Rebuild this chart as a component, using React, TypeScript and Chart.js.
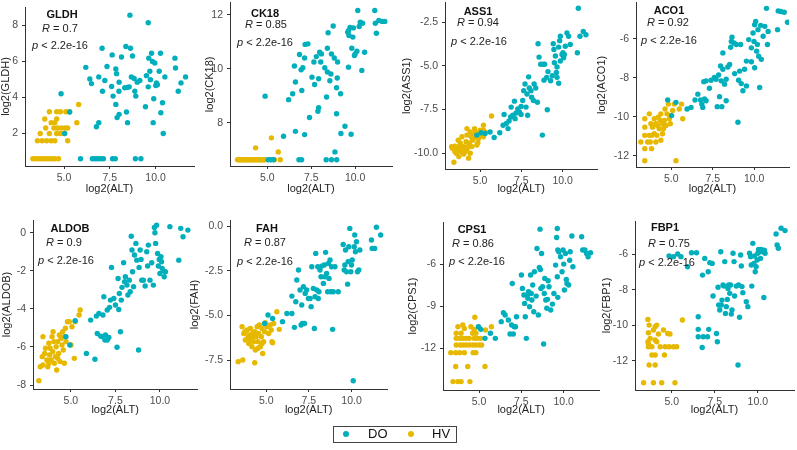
import React, { useEffect, useRef } from "react";
import { Chart, registerables } from "chart.js";
Chart.register(...registerables);

type Pt = [number, number];

const DO_COLOR = "#00AFBB";
const HV_COLOR = "#E7B800";
const AXIS_COLOR = "#333333";
const TICK_TEXT = "#4D4D4D";
const FONT = '"Liberation Sans", Arial, Helvetica, sans-serif';

const GROUPS = ["DO", "HV"];
const X_TITLE = "log2(ALT)";
const X_MIN = 2.87;
const X_MAX = 12.1;
const X_TICKS = [5, 7.5, 10];
const X_TICK_LABELS = ["5.0", "7.5", "10.0"];

const GENES = ["GLDH", "CK18", "ASS1", "ACO1", "ALDOB", "FAH", "CPS1", "FBP1"];
const R_VALUES = ["0.7", "0.85", "0.94", "0.92", "0.9", "0.87", "0.86", "0.75"];
const P_LABEL = "< 2.2e-16";

const Y_TICKS: number[][] = [
  [2, 4, 6, 8],
  [8, 10, 12],
  [-10, -7.5, -5, -2.5],
  [-12, -10, -8, -6],
  [-8, -6, -4, -2, 0],
  [-7.5, -5, -2.5, 0],
  [-12, -9, -6],
  [-12, -10, -8, -6],
];
const Y_TICK_LABELS: string[][] = [
  ["2", "4", "6", "8"],
  ["8", "10", "12"],
  ["-10.0", "-7.5", "-5.0", "-2.5"],
  ["-12", "-10", "-8", "-6"],
  ["-8", "-6", "-4", "-2", "0"],
  ["-7.5", "-5.0", "-2.5", "0.0"],
  ["-12", "-9", "-6"],
  ["-12", "-10", "-8", "-6"],
];
const Y_RANGES: Pt[] = [
  [0.2, 9.0],
  [6.41, 12.44],
  [-10.9, -1.39],
  [-12.57, -4.16],
  [-8.21, 0.67],
  [-9.12, 0.34],
  [-14.97, -3.0],
  [-13.65, -4.12],
];

// ---------- data ----------
const GLDH_HV: Pt[] = [
  [3.3,0.6],[3.45,0.6],[3.6,0.6],[3.75,0.6],[3.9,0.6],[4.05,0.6],[4.2,0.6],[4.35,0.6],[4.5,0.6],[4.7,0.6],
  [3.55,1.6],[3.8,1.6],[4.05,1.6],[4.3,1.6],[4.5,1.6],[5.2,1.6],
  [3.7,2.0],[4.2,2.0],[4.6,2.0],[4.8,2.0],[5.0,2.0],
  [4.0,2.3],[4.45,2.3],[4.65,2.3],[4.85,2.3],[5.05,2.3],[5.2,2.3],
  [4.3,2.6],[4.5,2.6],[5.7,2.6],[3.95,2.8],[4.6,2.8],
  [4.2,3.2],[4.6,3.2],[4.8,3.2],[5.1,3.2],[5.3,3.2],[5.8,3.6],
];
const GLDH_DO: Pt[] = [
  [4.84,4.2],[5.04,2.0],[5.31,3.19],
  [5.9,0.6],[6.55,0.6],[6.7,0.6],[6.85,0.6],[7.0,0.6],[7.15,0.6],[7.65,0.6],[7.8,0.6],[8.9,0.6],[9.2,0.6],
  [6.19,5.66],[6.41,5.02],[6.5,4.76],[6.9,5.13],[7.08,6.72],[7.23,4.93],[7.35,5.71],[7.1,4.34],[6.9,2.6],[6.77,2.37],
  [7.63,6.35],[7.68,4.07],[7.83,5.57],[7.87,5.31],[7.83,3.61],[7.9,2.88],[8.01,3.06],[8.0,4.34],[8.14,6.23],[8.01,4.84],
  [8.32,4.53],[8.41,3.19],[8.38,6.81],[8.47,2.6],[8.6,8.55],[8.56,4.58],[8.63,6.72],[8.68,5.13],[8.74,6.29],[8.83,5.04],
  [8.87,4.34],[8.92,4.07],[9.0,4.84],[9.14,4.93],[9.45,3.48],[9.6,8.13],[9.63,6.17],[9.69,5.44],[9.72,4.98],[9.78,6.44],
  [9.83,5.99],[9.87,2.6],[9.9,3.92],[9.96,5.9],[10.01,4.65],[10.05,4.8],[10.1,4.7],[10.2,5.44],[10.27,6.44],[10.29,3.15],
  [10.38,3.7],[10.42,2.0],[10.51,5.13],[11.06,6.17],[11.09,5.62],[11.24,4.34],[11.39,4.8],[11.64,5.13],[9.6,4.58],[9.5,5.2],
  [8.45,4.55],[7.6,4.6],
];

const CK18_HV: Pt[] = [
  [3.3,6.64],[3.38,6.64],[3.45,6.64],[3.52,6.64],[3.6,6.64],[3.67,6.64],[3.74,6.64],[3.81,6.64],[3.88,6.64],[3.95,6.64],
  [4.02,6.64],[4.09,6.64],[4.16,6.64],[4.23,6.64],[4.3,6.64],[4.37,6.64],[4.44,6.64],[4.51,6.64],[4.58,6.64],[4.65,6.64],
  [4.72,6.64],[4.8,6.64],[4.88,6.64],[4.33,7.08],[5.23,7.45],[5.62,6.93],[5.73,6.64],[5.4,6.64],
];
const CK18_DO: Pt[] = [
  [5.05,6.64],[5.2,6.64],[5.35,6.64],[6.8,6.64],[6.95,6.64],[8.35,6.64],[8.65,6.64],[8.95,6.64],[8.85,6.93],
  [4.87,8.99],[5.92,7.51],[6.21,8.86],[6.44,9.08],[6.54,10.1],[6.6,9.51],[6.6,7.69],[6.83,10.53],[6.92,9.96],[6.96,9.2],
  [7.02,10.04],[7.12,7.57],[7.15,10.9],[7.31,10.92],[7.12,10.4],[7.4,8.2],[7.54,9.69],[7.65,10.25],[7.69,9.42],[7.79,10.45],
  [7.88,8.43],[7.92,8.56],[7.92,9.63],[7.98,10.61],[8.08,10.55],[8.04,10.25],[8.27,10.04],[8.37,8.96],[8.42,10.76],[8.42,9.88],
  [8.46,11.33],[8.56,9.56],[8.62,9.81],[8.65,10.55],[8.75,11.58],[8.81,10.4],[8.94,9.3],[8.98,9.66],[8.94,8.34],[9.0,10.25],
  [9.17,9.08],[9.19,7.61],[9.42,7.88],[9.62,10.06],[9.62,11.41],[9.65,11.23],[9.77,7.58],[9.71,11.53],[9.81,10.76],[9.87,11.17],
  [9.9,11.51],[9.96,10.49],[10.0,10.55],[10.1,10.65],[10.15,12.15],[10.23,11.56],[10.29,11.72],[10.38,9.94],[10.42,11.68],
  [10.54,10.61],[11.12,12.15],[11.15,11.68],[11.21,11.31],[11.35,11.78],[11.54,11.75],[11.69,11.75],[9.58,11.35],
];

const ASS1_HV: Pt[] = [
  [3.41,-10.51],[3.27,-9.62],[5.69,-7.87],[5.2,-8.4],[5.2,-8.68],[4.9,-8.87],[4.66,-8.59],[4.4,-8.78],[4.2,-8.96],[3.9,-9.06],
  [3.67,-9.25],[3.47,-9.59],[3.31,-9.72],[3.61,-9.81],[3.8,-9.9],[4.0,-10.04],[4.2,-9.77],[4.35,-9.43],[4.54,-9.25],[4.7,-9.1],
  [4.86,-9.4],[5.06,-8.96],[4.3,-10.28],[3.71,-10.19],[4.0,-9.62],[3.55,-10.0],[3.8,-9.43],[4.15,-9.34],[4.5,-9.62],[4.46,-9.06],
  [4.7,-8.78],[5.0,-8.68],[4.1,-9.9],[4.4,-10.0],[3.47,-9.9],[3.9,-9.72],[4.2,-8.59],[4.6,-8.96],[5.3,-8.78],[4.9,-9.15],
  [5.2,-9.06],[4.8,-9.53],[3.71,-9.62],[4.25,-9.62],
];
const ASS1_DO: Pt[] = [
  [4.8,-8.96],[5.06,-8.83],[5.3,-8.87],[5.6,-8.78],[5.85,-9.1],[6.19,-8.83],[6.39,-8.4],[6.45,-7.78],[6.59,-8.3],[6.69,-8.59],
  [6.75,-8.15],[6.85,-7.93],[6.88,-7.36],[6.98,-7.83],[7.08,-7.02],[7.12,-8.02],[7.18,-7.7],[7.28,-7.46],[7.38,-7.64],[7.48,-7.78],
  [7.48,-7.32],[7.58,-6.98],[7.64,-6.42],[7.72,-6.04],[7.78,-7.36],[7.88,-7.83],[7.84,-6.61],[7.94,-5.63],[7.98,-6.27],[8.08,-6.42],
  [8.12,-6.8],[8.23,-6.98],[8.27,-6.04],[8.37,-6.27],[8.47,-7.08],[8.51,-3.74],[8.57,-4.5],[8.67,-4.91],[8.77,-8.96],[8.83,-4.91],
  [8.87,-5.82],[8.91,-4.91],[9.07,-7.51],[9.03,-5.66],[9.11,-5.33],[9.27,-5.85],[9.43,-3.74],[9.47,-4.06],[9.56,-4.44],[9.62,-5.38],
  [9.66,-5.06],[9.76,-3.93],[9.82,-3.56],[9.76,-6.0],[9.86,-4.72],[9.96,-4.35],[10.02,-4.25],[10.06,-4.54],[10.1,-4.35],[10.16,-3.88],
  [9.86,-3.31],[10.26,-3.12],[10.36,-3.31],[10.46,-3.78],[10.89,-4.25],[10.95,-1.71],[11.05,-3.31],[11.25,-3.03],[11.41,-3.22],
  [9.37,-5.57],[9.5,-4.82],[9.66,-5.66],
];

const ACO1_HV: Pt[] = [
  [3.16,-11.29],[3.4,-10.1],[3.4,-10.95],[3.4,-11.63],[3.67,-9.85],[3.67,-10.95],[3.73,-11.29],[3.81,-11.63],[3.87,-10.53],[3.97,-10.1],
  [4.07,-10.36],[4.13,-10.95],[4.21,-10.02],[4.27,-10.61],[4.37,-9.85],[4.47,-10.36],[4.58,-10.19],[4.47,-10.87],[4.62,-9.6],[4.74,-9.85],
  [4.82,-9.35],[4.88,-10.1],[4.37,-11.2],[5.08,-9.68],[5.18,-9.35],[5.48,-9.6],[5.62,-9.35],[5.69,-10.1],[5.28,-12.25],[3.4,-12.25],
  [3.81,-10.95],[4.68,-10.44],[3.97,-10.87],[4.17,-10.44],[3.57,-11.29],[4.33,-10.19],[4.98,-9.94],[4.53,-10.61],[3.4,-10.53],[4.94,-10.36],
  [4.07,-11.29],[3.77,-10.36],
];
const ACO1_DO: Pt[] = [
  [4.78,-9.14],[5.02,-9.94],[5.28,-9.26],[5.95,-9.6],[6.19,-9.52],[6.43,-9.14],[6.6,-8.84],[6.76,-9.14],[6.84,-9.35],[6.9,-9.52],
  [7.0,-9.09],[7.1,-9.18],[6.96,-8.2],[7.1,-8.16],[7.3,-8.54],[7.4,-8.13],[7.6,-7.99],[7.7,-8.08],[7.77,-9.48],[7.85,-7.86],
  [7.91,-8.97],[7.97,-7.4],[8.01,-8.16],[8.05,-9.48],[8.11,-7.57],[8.11,-6.73],[8.21,-8.33],[8.31,-8.08],[8.41,-7.45],[8.52,-7.32],
  [8.58,-6.44],[8.62,-6.14],[8.66,-5.93],[8.78,-6.22],[8.82,-7.79],[8.92,-6.3],[9.02,-10.28],[9.06,-8.13],[9.12,-7.66],[9.18,-6.3],
  [9.22,-8.3],[9.42,-7.57],[9.53,-8.42],[9.83,-7.18],[9.93,-5.71],[9.99,-6.14],[10.03,-5.29],[10.09,-5.12],[10.15,-6.64],[10.19,-6.3],
  [10.23,-5.54],[10.27,-6.9],[10.33,-8.5],[10.39,-5.32],[10.43,-7.06],[10.54,-5.88],[10.64,-5.37],[10.74,-4.45],[10.8,-6.3],[10.84,-5.63],
  [11.41,-5.54],[11.45,-4.58],[11.61,-4.61],[11.81,-4.65],[12.01,-5.16],[9.83,-6.47],[9.53,-7.15],[9.67,-6.05],[10.03,-7.49],[9.32,-8.67],
  [8.31,-9.18],
];

const ALDOB_HV: Pt[] = [
  [3.2,-7.77],[3.28,-7.04],[3.43,-6.95],[3.39,-6.51],[3.52,-6.34],[3.43,-5.46],[3.57,-6.07],[3.65,-6.69],[3.7,-7.04],[3.76,-5.81],
  [3.8,-6.42],[3.83,-6.07],[3.89,-6.69],[3.94,-5.46],[3.98,-6.25],[4.04,-5.72],[4.07,-6.86],[4.13,-6.51],[4.17,-5.99],[4.2,-7.21],
  [4.26,-5.72],[4.31,-6.34],[4.35,-5.37],[4.39,-6.77],[4.44,-5.55],[4.5,-5.9],[4.54,-5.2],[4.57,-6.16],[4.63,-5.46],[4.69,-5.02],
  [4.72,-5.72],[4.81,-4.67],[4.91,-4.67],[5.0,-5.9],[5.06,-4.94],[5.19,-6.6],[5.24,-4.67],[5.52,-4.06],[5.46,-4.32],[4.0,-5.2],
  [4.63,-6.86],[3.76,-6.86],[4.26,-6.6],
];
const ALDOB_DO: Pt[] = [
  [4.72,-5.46],[4.94,-5.9],[5.24,-4.62],[5.87,-6.34],[6.11,-4.59],[6.35,-6.65],[6.43,-4.38],[6.48,-5.29],[6.57,-4.24],[6.67,-5.43],
  [6.76,-5.46],[6.8,-4.32],[6.85,-3.36],[6.91,-5.64],[6.94,-5.37],[7.04,-5.64],[7.13,-5.5],[7.04,-4.06],[7.17,-3.92],[7.22,-3.54],
  [7.28,-1.82],[7.41,-3.45],[7.5,-3.8],[7.59,-6.02],[7.65,-2.4],[7.69,-4.03],[7.72,-3.19],[7.78,-5.2],[7.83,-3.54],[7.87,-2.87],
  [7.96,-1.58],[8.02,-2.57],[8.06,-2.31],[8.15,-2.75],[8.2,-3.27],[8.28,-2.49],[8.33,-3.1],[8.39,-0.18],[8.43,-0.91],[8.46,-2.05],
  [8.52,-2.84],[8.57,-1.17],[8.65,-0.56],[8.7,-1.44],[8.8,-6.16],[8.83,-1.82],[8.89,-0.91],[8.94,-1.4],[8.98,-2.49],[9.07,-2.49],
  [9.17,-2.8],[9.26,-1.0],[9.31,-1.75],[9.35,-0.65],[9.44,-2.49],[9.54,-1.58],[9.63,-2.75],[9.69,0.28],[9.72,0.0],[9.76,-0.56],
  [9.81,0.4],[9.87,-1.09],[9.91,-1.75],[9.96,-1.4],[10.0,-2.14],[10.06,-1.26],[10.09,-1.52],[10.13,-1.87],[10.19,-2.0],[10.24,-2.31],
  [10.31,-2.05],[10.56,0.32],[11.06,-1.44],[11.17,0.23],[11.3,-0.21],[11.57,0.14],
];

const FAH_HV: Pt[] = [
  [3.35,-7.59],[3.62,-7.5],[4.32,-7.65],[3.58,-5.63],[3.68,-6.01],[3.77,-6.38],[3.87,-5.82],[3.97,-6.57],[4.01,-6.1],[4.07,-5.73],
  [4.12,-6.29],[4.16,-6.75],[4.2,-6.01],[4.26,-6.47],[4.32,-5.91],[4.36,-6.94],[4.4,-6.19],[4.46,-5.63],[4.51,-6.47],[4.55,-6.01],
  [4.59,-5.54],[4.65,-6.75],[4.71,-6.19],[4.75,-5.73],[4.79,-7.13],[4.84,-6.47],[4.9,-5.91],[4.94,-5.41],[5.04,-5.63],[5.14,-6.01],
  [5.23,-5.54],[5.33,-6.47],[5.37,-6.53],[5.29,-5.82],[5.62,-4.79],[5.76,-5.78],[5.43,-5.45],[3.93,-6.19],[3.74,-5.91],[4.26,-6.16],
  [4.51,-6.84],[4.75,-6.57],[4.07,-6.42],
];
const FAH_DO: Pt[] = [
  [4.9,-5.45],[5.1,-4.98],[5.37,-5.17],[5.95,-5.35],[6.21,-4.89],[6.5,-4.89],[6.5,-3.92],[6.65,-5.67],[6.73,-4.24],[6.79,-3.02],
  [6.89,-2.46],[6.98,-3.58],[7.04,-5.54],[7.08,-4.42],[7.12,-5.45],[7.18,-3.4],[7.24,-5.45],[7.28,-3.77],[7.37,-3.58],[7.47,-4.05],
  [7.57,-4.05],[7.63,-4.51],[7.67,-2.28],[7.76,-3.49],[7.82,-5.73],[7.86,-3.96],[7.9,-1.53],[7.96,-3.58],[8.02,-2.28],[8.05,-4.05],
  [8.09,-3.68],[8.15,-2.46],[8.21,-2.84],[8.25,-2.24],[8.35,-3.21],[8.4,-2.18],[8.44,-2.84],[8.48,-1.47],[8.54,-2.65],[8.6,-3.68],
  [8.64,-2.09],[8.68,-2.93],[8.74,-1.9],[8.79,-3.68],[8.83,-2.28],[8.89,-5.78],[8.93,-3.68],[9.03,-2.28],[9.22,-3.68],[9.51,-1.03],
  [9.57,-2.46],[9.61,-2.18],[9.65,-1.34],[9.71,-2.56],[9.77,-3.25],[9.8,-1.99],[9.84,-1.16],[9.9,-0.13],[9.96,-2.56],[10.0,-2.18],
  [10.04,-1.9],[10.1,-8.66],[10.16,-1.16],[10.19,-0.5],[10.23,-1.44],[10.29,-0.88],[10.35,-2.56],[10.43,-2.46],[10.49,-1.34],[11.17,-0.78],
  [11.21,-1.25],[11.36,-1.25],[11.46,-0.07],[11.71,-0.5],
];

const CPS1_HV: Pt[] = [
  [3.46,-14.37],[3.75,-14.37],[3.94,-14.37],[4.46,-14.37],[3.62,-13.3],[4.33,-13.3],[5.35,-13.3],[3.33,-12.31],[3.62,-12.31],[3.85,-12.31],
  [4.13,-12.31],[4.65,-12.31],[4.81,-12.31],[3.65,-11.76],[3.88,-11.76],[4.04,-11.76],[4.23,-11.76],[4.42,-11.76],[4.62,-11.76],[4.81,-11.76],
  [5.0,-11.76],[5.15,-11.76],[3.65,-11.29],[3.85,-11.29],[4.04,-11.29],[4.23,-11.29],[4.42,-11.29],[4.71,-11.29],[4.9,-11.29],[5.1,-11.29],
  [3.65,-10.93],[3.94,-10.93],[4.62,-10.93],[4.81,-10.93],[3.75,-10.46],[4.04,-10.34],[4.13,-10.58],[4.52,-10.46],[4.71,-10.65],[4.75,-9.79],
  [5.0,-10.5],[5.73,-10.46],[5.38,-10.7],
];
const CPS1_DO: Pt[] = [
  [4.96,-10.46],[5.1,-10.65],[5.35,-11.29],[5.67,-10.93],[5.96,-11.29],[6.31,-10.1],[6.44,-9.46],[6.54,-9.63],[6.73,-9.98],[6.83,-10.98],
  [6.92,-10.34],[6.96,-7.38],[7.02,-10.98],[7.08,-10.46],[7.15,-10.46],[7.21,-9.75],[7.5,-6.78],[7.56,-7.73],[7.65,-8.2],[7.69,-8.8],
  [7.73,-9.75],[7.79,-11.29],[7.85,-8.2],[7.88,-8.44],[7.92,-7.97],[7.98,-9.04],[8.04,-6.78],[8.08,-8.09],[8.12,-8.56],[8.17,-7.49],
  [8.23,-9.39],[8.27,-6.55],[8.37,-8.28],[8.42,-4.89],[8.5,-9.63],[8.56,-6.24],[8.62,-6.38],[8.65,-7.73],[8.69,-5.24],[8.75,-7.61],
  [8.81,-11.69],[8.85,-8.09],[8.88,-7.02],[8.94,-8.56],[9.0,-9.15],[9.04,-8.51],[9.08,-7.19],[9.23,-9.27],[9.33,-8.85],[9.42,-8.09],
  [9.52,-6.07],[9.58,-4.1],[9.62,-6.9],[9.65,-8.37],[9.71,-5.12],[9.81,-5.48],[9.9,-6.55],[9.96,-5.0],[10.0,-6.0],[10.04,-7.85],
  [10.1,-5.24],[10.15,-7.09],[10.19,-7.38],[10.29,-7.49],[10.35,-5.72],[10.38,-5.12],[10.48,-4.0],[10.54,-6.19],[11.06,-4.05],[11.12,-5.0],
  [11.25,-5.0],[11.35,-5.24],[11.44,-5.48],[11.58,-5.19],[9.62,-3.46],[8.6,-3.51],[9.65,-5.0],[9.13,-7.61],
];

const FBP1_HV: Pt[] = [
  [3.37,-13.24],[3.94,-13.24],[4.42,-13.24],[5.19,-13.24],[3.69,-12.24],[4.04,-12.24],[3.85,-11.68],[4.04,-11.68],[4.58,-11.68],[3.62,-9.67],
  [3.69,-9.99],[3.65,-10.42],[3.62,-10.93],[3.75,-10.74],[3.65,-11.02],[4.04,-10.08],[3.94,-10.27],[4.13,-9.99],[4.23,-10.49],[4.13,-10.93],
  [4.33,-11.21],[4.52,-10.27],[4.62,-11.21],[4.77,-10.46],[4.9,-10.49],[4.85,-11.21],[5.1,-11.21],[5.29,-11.21],[5.62,-9.7],[3.85,-11.21],
  [3.65,-11.21],[4.04,-10.83],
];
const FBP1_DO: Pt[] = [
  [4.85,-6.09],[5.1,-6.13],[5.35,-5.98],[5.54,-6.13],[5.92,-6.7],[6.15,-5.91],[6.44,-5.91],[6.54,-9.52],[6.54,-10.23],[6.54,-10.65],
  [6.77,-11.25],[6.79,-7.17],[6.83,-10.65],[6.92,-6.23],[7.08,-10.65],[7.12,-6.98],[7.15,-10.23],[7.21,-6.47],[7.35,-6.51],[7.4,-8.35],
  [7.6,-10.46],[7.65,-10.93],[7.69,-7.86],[7.73,-8.86],[7.79,-9.14],[7.85,-5.85],[7.88,-8.86],[7.92,-8.58],[7.98,-7.73],[8.04,-7.79],
  [8.08,-6.41],[8.12,-9.33],[8.17,-8.95],[8.23,-8.54],[8.27,-7.92],[8.31,-7.73],[8.37,-8.2],[8.42,-7.73],[8.46,-9.37],[8.5,-9.14],
  [8.56,-5.94],[8.62,-6.41],[8.65,-8.35],[8.75,-7.79],[8.85,-12.24],[8.88,-7.73],[8.94,-9.55],[9.0,-6.04],[9.04,-6.66],[9.08,-7.82],
  [9.13,-8.16],[9.33,-8.67],[9.42,-8.95],[9.52,-5.94],[9.58,-6.13],[9.62,-6.6],[9.65,-7.79],[9.71,-5.38],[9.77,-6.51],[9.81,-6.09],
  [9.85,-6.98],[9.9,-6.7],[9.96,-6.32],[10.0,-5.94],[10.04,-5.72],[10.1,-5.85],[10.15,-6.23],[10.19,-5.72],[10.29,-5.85],[10.35,-8.43],
  [10.38,-5.76],[10.42,-5.94],[11.06,-4.85],[11.12,-5.47],[11.19,-5.66],[11.35,-4.53],[11.58,-4.66],
];

const DO_SERIES: Pt[][] = [GLDH_DO, CK18_DO, ASS1_DO, ACO1_DO, ALDOB_DO, FAH_DO, CPS1_DO, FBP1_DO];
const HV_SERIES: Pt[][] = [GLDH_HV, CK18_HV, ASS1_HV, ACO1_HV, ALDOB_HV, FAH_HV, CPS1_HV, FBP1_HV];

// ---------- layout (page pixels) ----------
interface Layout {
  cx: number; cy: number; cw: number; ch: number;
  L: number; R: number; T: number; B: number;
  ann: number[]; // title x,y, R x,y, p x,y
}
const LAYOUTS: Layout[] = [
  { cx: -1, cy: 0, cw: 198, ch: 200, L: 25, R: 194, T: 7, B: 166, ann: [62, 15, 60, 29, 60, 46] },
  { cx: 203, cy: 0, cw: 192, ch: 200, L: 230, R: 392, T: 2, B: 166, ann: [265, 14, 266, 25, 265, 43] },
  { cx: 400, cy: 0, cw: 200, ch: 200, L: 445, R: 599, T: 1, B: 169, ann: [478, 12, 478, 23, 479, 42] },
  { cx: 595, cy: 0, cw: 198, ch: 200, L: 636, R: 789, T: 1, B: 167, ann: [669, 11, 668, 23, 669, 41] },
  { cx: 0, cy: 210, cw: 200, ch: 211, L: 33, R: 199, T: 220, B: 389, ann: [70, 229, 64, 243, 66, 261] },
  { cx: 188, cy: 210, cw: 202, ch: 211, L: 230, R: 388, T: 220, B: 389, ann: [267, 229, 265, 243, 265, 262] },
  { cx: 406, cy: 210, cw: 196, ch: 211, L: 443, R: 600, T: 222, B: 390, ann: [472, 230, 473, 244, 477, 262] },
  { cx: 600, cy: 210, cw: 197, ch: 211, L: 635, R: 794, T: 221, B: 390, ann: [665, 228, 669, 244, 667, 263] },
];

function drawItalicPair(ctx: CanvasRenderingContext2D, it: string, rest: string, cx: number, cy: number) {
  const italic = `italic 11px ${FONT}`;
  const normal = `11px ${FONT}`;
  ctx.font = italic;
  const w1 = ctx.measureText(it).width;
  ctx.font = normal;
  const w2 = ctx.measureText(rest).width;
  const x0 = cx - (w1 + w2) / 2;
  ctx.textAlign = "left";
  ctx.font = italic;
  ctx.fillText(it, x0, cy);
  ctx.font = normal;
  ctx.fillText(rest, x0 + w1, cy);
}

const annotPlugin = {
  id: "annot",
  afterDatasetsDraw(chart: any) {
    const a = chart.$annot;
    if (!a) return;
    const ctx: CanvasRenderingContext2D = chart.ctx;
    ctx.save();
    ctx.fillStyle = "#111";
    ctx.textBaseline = "middle";
    ctx.textAlign = "center";
    ctx.font = `bold 11px ${FONT}`;
    ctx.fillText(a.gene, a.tx, a.ty);
    ctx.fillStyle = "#222";
    drawItalicPair(ctx, "R", " = " + a.r, a.rx, a.ry);
    drawItalicPair(ctx, "p", " " + P_LABEL, a.px, a.py);
    ctx.restore();
  },
};

function labelFor(ticks: number[], labels: string[], v: number) {
  const i = ticks.findIndex((t) => Math.abs(t - v) < 1e-6);
  return i >= 0 ? labels[i] : "";
}

function Panel({ idx }: { idx: number }) {
  const ref = useRef<HTMLCanvasElement>(null);
  const lay = LAYOUTS[idx];
  useEffect(() => {
    const yT = Y_TICKS[idx];
    const yL = Y_TICK_LABELS[idx];
    const [yMin, yMax] = Y_RANGES[idx];
    const zeroPad = (s: any) => {
      s.paddingTop = 0; s.paddingBottom = 0; s.paddingLeft = 0; s.paddingRight = 0;
    };
    const chart: any = new Chart(ref.current as HTMLCanvasElement, {
      type: "scatter",
      data: {
        datasets: [
          {
            label: GROUPS[0],
            data: DO_SERIES[idx].map(([x, y]) => ({ x, y })),
            backgroundColor: DO_COLOR,
            borderWidth: 0,
            pointRadius: 2.7,
            pointHoverRadius: 2.7,
          },
          {
            label: GROUPS[1],
            data: HV_SERIES[idx].map(([x, y]) => ({ x, y })),
            backgroundColor: HV_COLOR,
            borderWidth: 0,
            pointRadius: 2.7,
            pointHoverRadius: 2.7,
          },
        ],
      },
      options: {
        animation: false,
        responsive: false,
        maintainAspectRatio: false,
        events: [],
        layout: {
          padding: { left: 0, top: lay.T - lay.cy, right: lay.cx + lay.cw - lay.R, bottom: 0 },
        },
        plugins: { legend: { display: false }, tooltip: { enabled: false } },
        scales: {
          x: {
            type: "linear",
            min: X_MIN,
            max: X_MAX,
            afterBuildTicks: (s: any) => { s.ticks = X_TICKS.map((v) => ({ value: v })); },
            afterFit: (s: any) => { s.height = lay.cy + lay.ch - lay.B; zeroPad(s); },
            ticks: {
              autoSkip: false,
              maxRotation: 0,
              padding: 3,
              color: TICK_TEXT,
              font: { family: FONT, size: 10.5 },
              callback: (v: any) => labelFor(X_TICKS, X_TICK_LABELS, Number(v)),
            },
            grid: { drawOnChartArea: false, drawTicks: true, tickLength: 3, color: AXIS_COLOR, lineWidth: 1 },
            border: { display: true, color: AXIS_COLOR, width: 1 },
            title: {
              display: true,
              text: X_TITLE,
              color: "#222",
              font: { family: FONT, size: 11 },
              padding: { top: 0, bottom: 4 },
            },
          },
          y: {
            type: "linear",
            min: yMin,
            max: yMax,
            afterBuildTicks: (s: any) => { s.ticks = yT.map((v) => ({ value: v })); },
            afterFit: (s: any) => { s.width = lay.L - lay.cx; zeroPad(s); },
            ticks: {
              autoSkip: false,
              padding: 4,
              color: TICK_TEXT,
              font: { family: FONT, size: 10.5 },
              callback: (v: any) => labelFor(yT, yL, Number(v)),
            },
            grid: { drawOnChartArea: false, drawTicks: true, tickLength: 3, color: AXIS_COLOR, lineWidth: 1 },
            border: { display: true, color: AXIS_COLOR, width: 1 },
            title: {
              display: true,
              text: `log2(${GENES[idx]})`,
              color: "#222",
              font: { family: FONT, size: 11 },
              padding: { top: 0, bottom: 0 },
            },
          },
        },
      },
      plugins: [annotPlugin as any],
    });
    chart.$annot = {
      gene: GENES[idx],
      r: R_VALUES[idx],
      tx: lay.ann[0] - lay.cx, ty: lay.ann[1] - lay.cy,
      rx: lay.ann[2] - lay.cx, ry: lay.ann[3] - lay.cy,
      px: lay.ann[4] - lay.cx, py: lay.ann[5] - lay.cy,
    };
    chart.draw();
    return () => chart.destroy();
  }, [idx]);
  return (
    <canvas
      ref={ref}
      width={lay.cw}
      height={lay.ch}
      style={{ position: "absolute", left: lay.cx, top: lay.cy, width: lay.cw, height: lay.ch }}
    />
  );
}

export default function App() {
  return (
    <div
      style={{
        position: "fixed",
        left: 0,
        top: 0,
        width: 797,
        height: 450,
        background: "#fff",
        overflow: "hidden",
        fontFamily: FONT,
      }}
    >
      {GENES.map((g, i) => (
        <Panel key={g} idx={i} />
      ))}
      <div
        style={{
          position: "absolute",
          left: 333,
          top: 426,
          width: 124,
          height: 17,
          border: "1px solid #444",
          boxSizing: "border-box",
        }}
      >
        <div style={{ position: "absolute", left: 9, top: 4, width: 6, height: 6, borderRadius: 3, background: DO_COLOR }} />
        <div style={{ position: "absolute", left: 34, top: -1, fontSize: 13, lineHeight: "16px", color: "#111" }}>{GROUPS[0]}</div>
        <div style={{ position: "absolute", left: 74, top: 4, width: 6, height: 6, borderRadius: 3, background: HV_COLOR }} />
        <div style={{ position: "absolute", left: 98, top: -1, fontSize: 13, lineHeight: "16px", color: "#111" }}>{GROUPS[1]}</div>
      </div>
    </div>
  );
}
